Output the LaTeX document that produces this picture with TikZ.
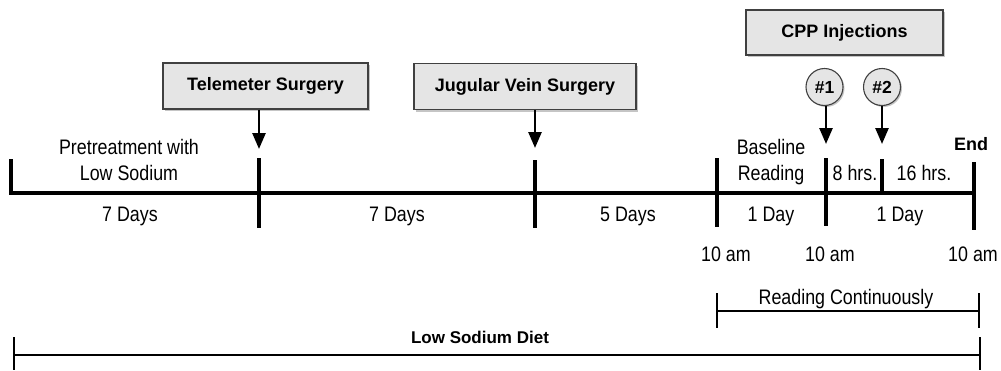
\documentclass[tikz,border=0pt]{standalone}
\usepackage{fontspec}
\setmainfont{Liberation Sans}
\newfontfamily\narrowfont{Liberation Sans}[FakeStretch=0.85]
\usetikzlibrary{arrows.meta, shadows, positioning}
\tikzstyle{arrow} = [line width=2.6pt, -{Triangle[length=16pt, width=13pt]}]
\tikzstyle{mainline} = [line width=3.4pt]
\tikzstyle{tick} = [line width=4.2pt]
\tikzstyle{bracket} = [line width=1.4pt]
\tikzstyle{event} = [rectangle, minimum height=46pt, draw=black!75, line width=1.1pt, fill=black!10, drop shadow={shadow xshift=2pt, shadow yshift=-2pt, fill=black!45}, font=\bfseries\fontsize{18}{22}\selectfont]
\tikzstyle{dose} = [circle, minimum size=37pt, inner sep=0pt, draw=black!75, line width=1.1pt, fill=black!10, drop shadow={shadow xshift=1.5pt, shadow yshift=-1.5pt, fill=black!45}, font=\bfseries\fontsize{17.5}{20}\selectfont]
\tikzstyle{period} = [inner sep=0pt, align=center, font=\narrowfont\fontsize{21}{26}\selectfont]
\tikzstyle{heading} = [inner sep=0pt, font=\bfseries\fontsize{17}{20}\selectfont]

\begin{document}
\begin{tikzpicture}[x=1pt, y=-1pt]
\useasboundingbox (0,0) rectangle (1001,370);

% Time points
\coordinate (t0) at (11,193);  \coordinate (t0up) at (11,159);
\coordinate (t1) at (259,193); \coordinate (t1up) at (259,158); \coordinate (t1dn) at (259,228);
\coordinate (t2) at (535,193); \coordinate (t2up) at (535,160); \coordinate (t2dn) at (535,228);
\coordinate (t3) at (717,193); \coordinate (t3up) at (717,158); \coordinate (t3dn) at (717,227);
\coordinate (t4) at (826,193); \coordinate (t4up) at (826,158); \coordinate (t4dn) at (826,226);
\coordinate (t5) at (882,193); \coordinate (t5up) at (882,159);
\coordinate (t6) at (974,193); \coordinate (t6up) at (974,162); \coordinate (t6dn) at (974,230);

% Timeline
\draw [mainline] (t0up) -- (t0) -- (t6);
\draw [tick] (t1up) -- (t1dn);
\draw [tick] (t2up) -- (t2dn);
\draw [tick] (t3up) -- (t3dn);
\draw [tick] (t4up) -- (t4dn);
\draw [tick] (t5up) -- (t5);
\draw [tick] (t6up) -- (t6dn);

% Events
\node (tele) [event, minimum width=205pt] at (265.5,86) {Telemeter Surgery};
\node (jug) [event, minimum width=222pt] at (525,86.5) {Jugular Vein Surgery};
\node (cpp) [event, minimum width=197pt, minimum height=45pt] at (844.5,32.5) {CPP Injections};
\node (inj1) [dose] at (824.5,87) {\#1};
\node (inj2) [dose] at (882,87) {\#2};

% Arrows
\coordinate (tip1) at (259,149);
\coordinate (tip2) at (535,148);
\coordinate (tip3) at (826,144);
\coordinate (tip4) at (882,144);
\draw [arrow] (tele.south -| tip1) -- (tip1);
\draw [arrow] (jug.south -| tip2) -- (tip2);
\draw [arrow] (inj1.south -| tip3) -- (tip3);
\draw [arrow] (inj2.south -| tip4) -- (tip4);

% Periods
\node (pre) [period] at (129,159.5) {Pretreatment with\\Low Sodium};
\node (base) [period] at (771,162) {Baseline\\Reading};
\node (eight) [period, anchor=base] at (855,180) {8 hrs.};
\node (sixteen) [period, anchor=base] at (924,180) {16 hrs.};
\node (endlbl) [heading, font=\bfseries\fontsize{18}{20}\selectfont, anchor=base] at (971,150) {End};
\node (d1) [period, anchor=base] at (130,221) {7 Days};
\node (d2) [period, anchor=base] at (397,221) {7 Days};
\node (d3) [period, anchor=base] at (628,221) {5 Days};
\node (d4) [period, anchor=base] at (771,221) {1 Day};
\node (d5) [period, anchor=base] at (900,221) {1 Day};

% Clock times
\node (am1) [period, anchor=base] at (726,261) {10 am};
\node (am2) [period, anchor=base] at (830,261) {10 am};
\node (am3) [period, anchor=base] at (973,261) {10 am};

% Reading bracket
\coordinate (r0up) at (717,293); \coordinate (r0) at (717,311); \coordinate (r0dn) at (717,328);
\coordinate (r1up) at (979,293); \coordinate (r1) at (979,311); \coordinate (r1dn) at (979,328);
\draw [bracket] (r0up) -- (r0dn);
\draw [bracket] (r1up) -- (r1dn);
\draw [bracket] (r0) -- (r1);
\node (reading) [period, anchor=base] at (846,304) {Reading Continuously};

% Diet bracket
\coordinate (s0up) at (14,337); \coordinate (s0) at (14,355); \coordinate (s0dn) at (14,370);
\coordinate (s1up) at (980,337); \coordinate (s1) at (980,355); \coordinate (s1dn) at (980,370);
\draw [bracket] (s0up) -- (s0dn);
\draw [bracket] (s1up) -- (s1dn);
\draw [bracket] (s0) -- (s1);
\node (diet) [heading, anchor=base] at (480,343) {Low Sodium Diet};

\end{tikzpicture}
\end{document}
